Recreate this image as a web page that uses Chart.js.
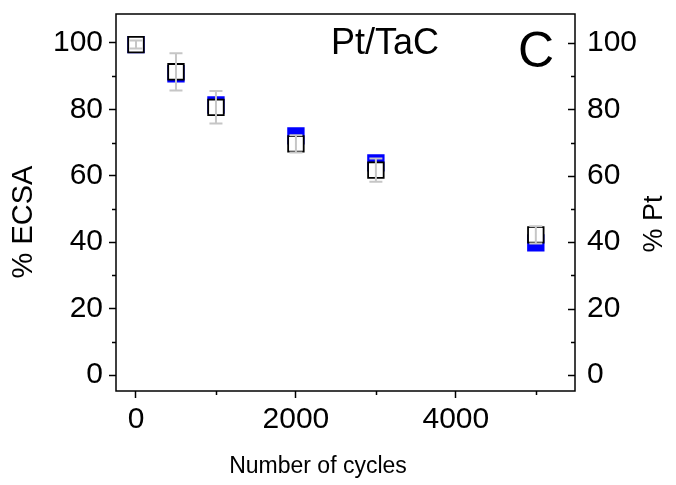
<!DOCTYPE html>
<html lang="en">
<head>
    <meta charset="UTF-8">
    <title>Pt/TaC ECSA</title>
    <script src="https://cdn.jsdelivr.net/npm/chart.js"></script>
    <style>
        body { margin: 0; background: #fff; }
        canvas { display: block; }
    </style>
</head>
<body>
    <canvas id="chart" width="676" height="485"></canvas>

    <script>
        // data
        const cycles = [0, 500, 1000, 2000, 3000, 5000];
        const ecsa = [99.5, 91.3, 80.6, 69.6, 61.7, 42.2];
        const ecsaErr = [1.2, 5.6, 4.9, 2.6, 3.5, 2.6];
        const pt = [99.5, 90.7, 81.3, 72.0, 63.9, 39.8];
        const xTicks = [0, 2000, 4000];
        const xMinor = [1000, 3000, 5000];
        const yTicks = [0, 20, 40, 60, 80, 100];
        const yMinor = [10, 30, 50, 70, 90];

        const font = 'Arial, "Liberation Sans", sans-serif';

        const extras = {
            id: 'extras',
            afterDatasetsDraw(chart) {
                const ctx = chart.ctx;
                const x = chart.scales.x, y = chart.scales.y;
                ctx.save();
                ctx.strokeStyle = '#c6c6c6';
                ctx.lineWidth = 2;
                cycles.forEach((c, i) => {
                    const px = x.getPixelForValue(c);
                    const top = y.getPixelForValue(ecsa[i] + ecsaErr[i]);
                    const bot = y.getPixelForValue(ecsa[i] - ecsaErr[i]);
                    ctx.beginPath();
                    ctx.moveTo(px, top); ctx.lineTo(px, bot);
                    ctx.moveTo(px - 6.5, top); ctx.lineTo(px + 6.5, top);
                    ctx.moveTo(px - 6.5, bot); ctx.lineTo(px + 6.5, bot);
                    ctx.stroke();
                });
                ctx.restore();
            },
            afterDraw(chart) {
                const ctx = chart.ctx;
                const a = chart.chartArea;
                const x = chart.scales.x, y = chart.scales.y;
                ctx.save();
                ctx.strokeStyle = '#000';
                ctx.lineWidth = 1.5;
                ctx.strokeRect(a.left, a.top, a.right - a.left, a.bottom - a.top);

                ctx.beginPath();
                // minor ticks
                yMinor.forEach(v => {
                    const py = Math.round(y.getPixelForValue(v)) + 0.5;
                    ctx.moveTo(a.left, py); ctx.lineTo(a.left - 4, py);
                    ctx.moveTo(a.right, py); ctx.lineTo(a.right - 4, py);
                });
                xMinor.forEach(v => {
                    const px = Math.round(x.getPixelForValue(v)) + 0.5;
                    ctx.moveTo(px, a.bottom); ctx.lineTo(px, a.bottom + 4);
                });
                // right axis major ticks point inward
                yTicks.forEach(v => {
                    const py = Math.round(y.getPixelForValue(v)) + 0.5;
                    ctx.moveTo(a.right, py); ctx.lineTo(a.right - 7, py);
                });
                ctx.stroke();

                ctx.fillStyle = '#000';
                ctx.textBaseline = 'middle';
                ctx.textAlign = 'center';
                ctx.font = '36px ' + font;
                ctx.fillText('Pt/TaC', 385, 44);
                ctx.font = '50px ' + font;
                ctx.fillText('C', 536, 53);
                ctx.font = '23px ' + font;
                ctx.fillText('Number of cycles', 318, 467);

                ctx.save();
                ctx.translate(24, 222);
                ctx.rotate(-Math.PI / 2);
                ctx.font = '29px ' + font;
                ctx.fillText('% ECSA', 0, 0);
                ctx.restore();

                ctx.translate(655, 224);
                ctx.rotate(-Math.PI / 2);
                ctx.font = '27px ' + font;
                ctx.fillText('% Pt', 0, 0);
                ctx.restore();
            }
        };

        new Chart(document.getElementById('chart'), {
            type: 'scatter',
            data: {
                datasets: [
                    {
                        label: '% ECSA',
                        data: cycles.map((c, i) => ({ x: c, y: ecsa[i] })),
                        pointStyle: 'rect',
                        pointRadius: 11,
                        backgroundColor: '#fff',
                        borderColor: '#000',
                        borderWidth: 1.8,
                        order: 1
                    },
                    {
                        label: '% Pt',
                        data: cycles.map((c, i) => ({ x: c, y: pt[i] })),
                        pointStyle: 'rect',
                        pointRadius: 11,
                        backgroundColor: '#0000ff',
                        borderColor: '#0000ff',
                        borderWidth: 1.8,
                        order: 2
                    }
                ]
            },
            options: {
                responsive: false,
                animation: false,
                layout: { padding: { top: 14, left: 0, right: 0, bottom: 0 } },
                plugins: { legend: { display: false }, tooltip: { enabled: false } },
                scales: {
                    x: {
                        type: 'linear',
                        min: -250,
                        max: 5490,
                        afterBuildTicks: s => { s.ticks = xTicks.map(v => ({ value: v })); },
                        afterFit: s => { s.height = 94; },
                        border: { display: false },
                        grid: { drawOnChartArea: false, tickLength: 7, tickColor: '#000', tickWidth: 1.5 },
                        ticks: { color: '#000', font: { family: font, size: 30 }, padding: 4, maxRotation: 0, callback: v => String(v) }
                    },
                    y: {
                        min: -4.8,
                        max: 108.7,
                        afterBuildTicks: s => { s.ticks = yTicks.map(v => ({ value: v })); },
                        afterFit: s => { s.width = 116; },
                        border: { display: false },
                        grid: { drawOnChartArea: false, tickLength: 7, tickColor: '#000', tickWidth: 1.5 },
                        ticks: { color: '#000', font: { family: font, size: 30, lineHeight: 0.1 }, padding: 6, callback: v => String(v) }
                    },
                    y2: {
                        position: 'right',
                        min: -4.8,
                        max: 108.7,
                        afterBuildTicks: s => { s.ticks = yTicks.map(v => ({ value: v })); },
                        afterFit: s => { s.width = 101; },
                        border: { display: false },
                        grid: { drawOnChartArea: false, drawTicks: false },
                        ticks: { color: '#000', font: { family: font, size: 30, lineHeight: 0.1 }, padding: 12, callback: v => String(v) }
                    }
                }
            },
            plugins: [extras]
        });
    </script>
</body>
</html>
